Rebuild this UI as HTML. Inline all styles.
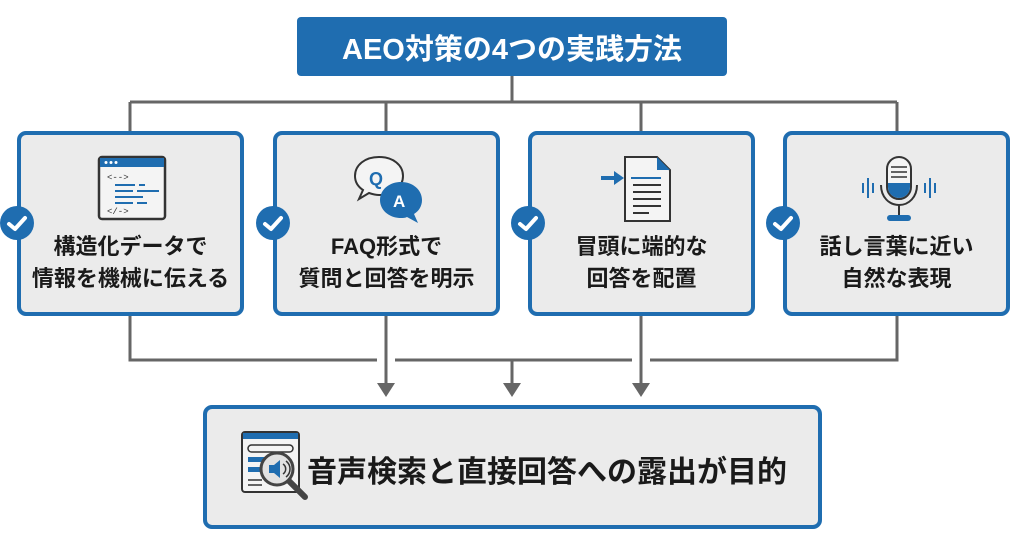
<!DOCTYPE html>
<html><head><meta charset="utf-8"><style>
body{margin:0;width:1024px;height:541px;background:#fff;position:relative;overflow:hidden;font-family:"Liberation Sans","Noto Sans CJK JP",sans-serif;}
.abs{position:absolute;}
.title{left:297px;top:17px;width:430px;height:59px;background:#1f6db0;border-radius:4px;color:#fff;font-weight:bold;font-size:29px;display:flex;align-items:center;justify-content:center;}
.card{width:219px;height:177px;top:131px;background:#ebebeb;border:4px solid #1f6db0;border-radius:9px;box-sizing:content-box;}
.ct{position:absolute;left:0;right:0;top:96px;text-align:center;font-weight:bold;font-size:22px;line-height:32px;color:#1a1a1a;}
.chk{width:34px;height:34px;border-radius:50%;background:#1f6db0;top:206px;}
.bottom{left:203px;top:405px;width:611px;height:116px;background:#ebebeb;border:4px solid #1f6db0;border-radius:9px;}
.bt{position:absolute;left:100px;top:38px;font-weight:bold;font-size:30px;color:#1a1a1a;}
</style></head><body>
<svg class="abs" style="left:0;top:0" width="1024" height="541">
<g stroke="#666" stroke-width="3" fill="none">
<path d="M512 76V102M130 102H897M130 102V131M386 102V131M641 102V131M897 102V131"/>
<path d="M130 312V360H377M395 360H632M650 360H897V312"/>
<path d="M386 312V385M641 312V385M512 360V385"/>
</g>
<g fill="#666"><path d="M377 383h18l-9 14z"/><path d="M503 383h18l-9 14z"/><path d="M632 383h18l-9 14z"/></g>
</svg>
<div class="abs title">AEO対策の4つの実践方法</div>

<div class="abs card" style="left:17px"><div class="ct">構造化データで<br>情報を機械に伝える</div>
<svg class="abs" style="left:76px;top:20px" width="72" height="68"><rect x="2" y="2" width="66" height="62" rx="3" fill="#f4f4f4" stroke="#333" stroke-width="2.5"/><rect x="3" y="3" width="64" height="9" fill="#1f6db0"/><g fill="#fff"><circle cx="9" cy="7.5" r="1.5"/><circle cx="14" cy="7.5" r="1.5"/><circle cx="19" cy="7.5" r="1.5"/></g><text x="10" y="25" font-size="9" font-family="Liberation Mono" fill="#333">&lt;--&gt;</text><g stroke="#1f6db0" stroke-width="2"><path d="M18 30h20M42 30h6M18 36h18M40 36h22M18 42h28M18 48h18M40 48h10"/></g><text x="10" y="59" font-size="9" font-family="Liberation Mono" fill="#333">&lt;/-&gt;</text></svg>
</div>
<div class="abs card" style="left:273px"><div class="ct">FAQ形式で<br>質問と回答を明示</div>
<svg class="abs" style="left:72px;top:20px" width="80" height="70"><path d="M30 2c14 0 24 8 24 19s-10 19-24 19c-4 0-7-1-10-2l-10 6 4-9C8 31 6 26 6 21 6 10 16 2 30 2z" fill="#f4f4f4" stroke="#333" stroke-width="2"/><text x="20" y="30" font-size="18" font-weight="bold" fill="#1f6db0">Q</text><path d="M52 27c12 0 21 8 21 18 0 6-3 11-8 14l4 9-11-6c-2 1-4 1-6 1-12 0-21-8-21-18s9-18 21-18z" fill="#1f6db0"/><text x="44" y="52" font-size="17" font-weight="bold" fill="#fff">A</text></svg>
</div>
<div class="abs card" style="left:528px"><div class="ct">冒頭に端的な<br>回答を配置</div>
<svg class="abs" style="left:65px;top:18px" width="90" height="72"><path d="M28 4h32l13 13v51H28z" fill="#f4f4f4" stroke="#333" stroke-width="2"/><path d="M60 4v13h13z" fill="#1f6db0"/><path d="M4 25h16" stroke="#1f6db0" stroke-width="4"/><path d="M17 18l10 7-10 7z" fill="#1f6db0"/><path d="M34 25h30" stroke="#1f6db0" stroke-width="2"/><g stroke="#333" stroke-width="2"><path d="M36 32h28M36 39h28M36 46h28M36 53h28M36 60h16"/></g></svg>
</div>
<div class="abs card" style="left:783px"><div class="ct">話し言葉に近い<br>自然な表現</div>
<svg class="abs" style="left:70px;top:18px" width="84" height="72"><g stroke="#1f6db0" stroke-width="2"><path d="M6 30v10M11 25v20M16 30v10M68 30v10M73 25v20M78 30v10"/></g><rect x="30" y="4" width="24" height="42" rx="12" fill="#f4f4f4" stroke="#333" stroke-width="2"/><path d="M31 30h22v4a11 11 0 0 1-22 0z" fill="#1f6db0"/><g stroke="#333" stroke-width="1.5"><path d="M34 14h16M34 19h16M34 24h16"/></g><path d="M24 32c0 12 8 20 18 20s18-8 18-20" fill="none" stroke="#333" stroke-width="2"/><path d="M42 52v10" stroke="#333" stroke-width="2"/><rect x="30" y="62" width="24" height="6" rx="3" fill="#1f6db0"/></svg>
</div>
<div class="abs chk" style="left:0px"></div><div class="abs chk" style="left:256px"></div><div class="abs chk" style="left:511px"></div><div class="abs chk" style="left:766px"></div>
<svg class="abs" style="left:0;top:206px" width="1024" height="34"><g stroke="#fff" stroke-width="4" fill="none" stroke-linecap="round" stroke-linejoin="round"><path d="M9 18l6 5 10-11"/><path d="M265 18l6 5 10-11"/><path d="M520 18l6 5 10-11"/><path d="M775 18l6 5 10-11"/></g></svg>

<div class="abs bottom">
<svg class="abs" style="left:32px;top:20px" width="80" height="82"><rect x="3" y="3" width="57" height="60" rx="3" fill="#f4f4f4" stroke="#333" stroke-width="2"/><rect x="4" y="4" width="55" height="6" fill="#1f6db0"/><rect x="9" y="16" width="45" height="7" rx="3.5" fill="none" stroke="#333" stroke-width="1.5"/><g fill="#1f6db0"><rect x="9" y="28" width="20" height="5"/><rect x="9" y="38" width="20" height="5"/></g><g stroke="#333" stroke-width="1.5"><path d="M9 51h14M9 56h14"/></g><path d="M50 52l16 16" stroke="#444" stroke-width="6" stroke-linecap="round"/><circle cx="38" cy="40" r="16" fill="#e2e2e2" stroke="#444" stroke-width="3"/><path d="M30 36h5l6-5v18l-6-5h-5z" fill="#1f6db0"/><path d="M44 35a6 6 0 0 1 0 10M47 32a10 10 0 0 1 0 16" fill="none" stroke="#333" stroke-width="1.5"/></svg>
<div class="bt">音声検索と直接回答への露出が目的</div>
</div>
</body></html>
